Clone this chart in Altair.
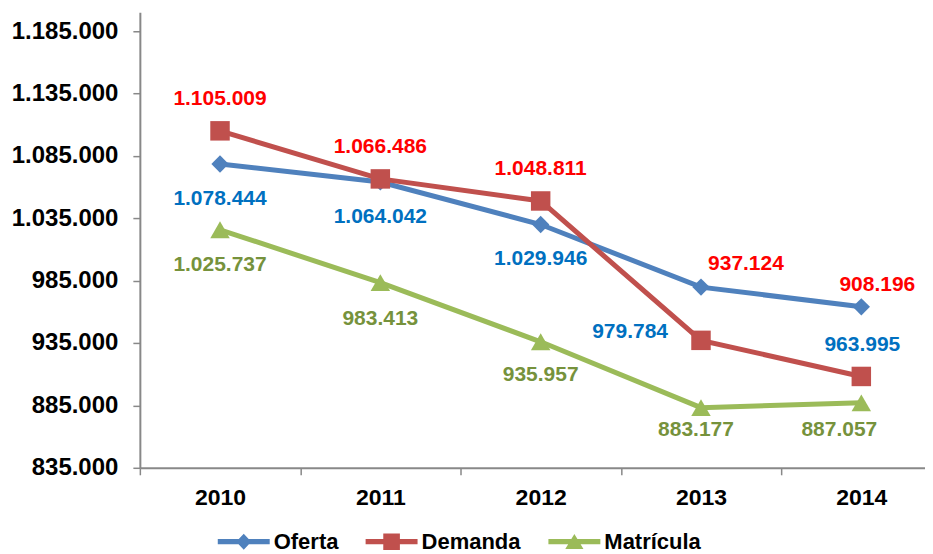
import altair as alt
import pandas as pd

# ---- data ----
years = [2010, 2011, 2012, 2013, 2014]
series_names = ["Oferta", "Demanda", "Matrícula"]
oferta = [1078444, 1064042, 1029946, 979784, 963995]
demanda = [1105009, 1066486, 1048811, 937124, 908196]
matricula = [1025737, 983413, 935957, 883177, 887057]
y_ticks = [835000, 885000, 935000, 985000, 1035000, 1085000, 1135000, 1185000]
y_domain = [835000, 1200000]

# ---- styles ----
FONT = "Liberation Sans"
line_colors = {"Oferta": "#4F81BD", "Demanda": "#C0504D", "Matrícula": "#9BBB59"}
label_colors = {"Oferta": "#0070C0", "Demanda": "#FF0000", "Matrícula": "#76923C"}
marker_shapes = {"Oferta": "diamond", "Demanda": "square", "Matrícula": "triangle-up"}
marker_sizes = {"Oferta": 300, "Demanda": 380, "Matrícula": 380}
# per-point label offsets (dx, dy) in pixels
label_offsets = {
    "Oferta": [(0, 35), (0, 35), (0, 35), (-71, 45), (1, 38)],
    "Demanda": [(0, -32), (0, -32), (0, -32), (45, -76), (16, -92)],
    "Matrícula": [(0, 35), (0, 36), (0, 33), (-5, 22), (-22, 27)],
}
legend_paths = [
    "M-1,-0.1L1,-0.1L1,0.1L-1,0.1Z M0,-0.31L0.29,0L0,0.31L-0.29,0Z",
    "M-1,-0.1L1,-0.1L1,0.1L-1,0.1Z M-0.32,-0.32L0.32,-0.32L0.32,0.32L-0.32,0.32Z",
    "M-1,-0.1L1,-0.1L1,0.1L-1,0.1Z M0,-0.3L0.35,0.28L-0.35,0.28Z",
]

values = {"Oferta": oferta, "Demanda": demanda, "Matrícula": matricula}
rows = []
for s in series_names:
    for i, (yr, v) in enumerate(zip(years, values[s])):
        rows.append({"series": s, "year": yr, "value": v, "idx": i,
                     "label": f"{v:,}".replace(",", ".")})
df = pd.DataFrame(rows)

x_px_per_year = 160.5
plot_w = 786
x_domain = [years[0] - 0.5, years[0] - 0.5 + plot_w / x_px_per_year]
x_ticks = sorted([y - 0.5 for y in years] + years)

x_enc = alt.X(
    "year:Q",
    scale=alt.Scale(domain=x_domain, nice=False, zero=False),
    axis=alt.Axis(
        values=x_ticks,
        labelExpr="datum.value % 1 == 0 ? format(datum.value, 'd') : ''",
        tickOpacity={"condition": {"test": "datum.value % 1 == 0", "value": 0}, "value": 1},
        labelOverlap=False, labelFlush=False,
        labelFont=FONT, labelFontSize=23, labelFontWeight="bold", labelColor="black",
        labelPadding=12, tickSize=7, tickColor="#888888", tickWidth=1.5,
        domainColor="#888888", domainWidth=2, grid=False, title=None,
    ),
)
y_enc = alt.Y(
    "value:Q",
    scale=alt.Scale(domain=y_domain, nice=False, zero=False),
    axis=alt.Axis(
        values=y_ticks,
        labelExpr="replace(format(datum.value, ',d'), /,/g, '.')",
        labelFont=FONT, labelFontSize=24, labelFontWeight="bold", labelColor="black",
        labelPadding=15, tickSize=7, tickColor="#888888", tickWidth=1.5,
        domainColor="#888888", domainWidth=2, grid=False, title=None,
    ),
)

base = alt.Chart(df)
layers = []
for s in series_names:
    sub = base.transform_filter(alt.datum.series == s)
    layers.append(sub.mark_line(strokeWidth=5, color=line_colors[s]).encode(x=x_enc, y=y_enc))
    layers.append(sub.mark_point(filled=True, opacity=1, shape=marker_shapes[s],
                                 size=marker_sizes[s], color=line_colors[s]).encode(x=x_enc, y=y_enc))

for s in series_names:
    for i, (dx, dy) in enumerate(label_offsets[s]):
        layers.append(
            base.transform_filter((alt.datum.series == s) & (alt.datum.idx == i))
            .mark_text(dx=dx, dy=dy, font=FONT, fontSize=21, fontWeight="bold",
                       color=label_colors[s], align="center", baseline="middle")
            .encode(x=x_enc, y=y_enc, text="label:N")
        )

legend_kw = dict(
    orient="none", legendX=78, legendY=504, direction="horizontal", columns=3,
    title=None, symbolSize=2704, symbolOpacity=1, symbolStrokeWidth=0,
    labelFont=FONT, labelFontSize=22, labelFontWeight="bold", labelColor="black",
    labelOffset=4, columnPadding=27,
)
legend_layer = base.mark_point(filled=True, opacity=0).encode(
    x=x_enc, y=y_enc,
    color=alt.Color("series:N", sort=series_names,
                    scale=alt.Scale(domain=series_names, range=[line_colors[s] for s in series_names]),
                    legend=alt.Legend(**legend_kw)),
    shape=alt.Shape("series:N", sort=series_names,
                    scale=alt.Scale(domain=series_names, range=legend_paths),
                    legend=alt.Legend(**legend_kw)),
)
layers.append(legend_layer)

chart = alt.layer(*layers).properties(
    width=plot_w, height=456,
    padding={"left": 3, "top": 4, "right": 0, "bottom": 0},
).configure_view(stroke=None)

chart.save("out.html", embed_options={"renderer": "svg", "actions": False})
